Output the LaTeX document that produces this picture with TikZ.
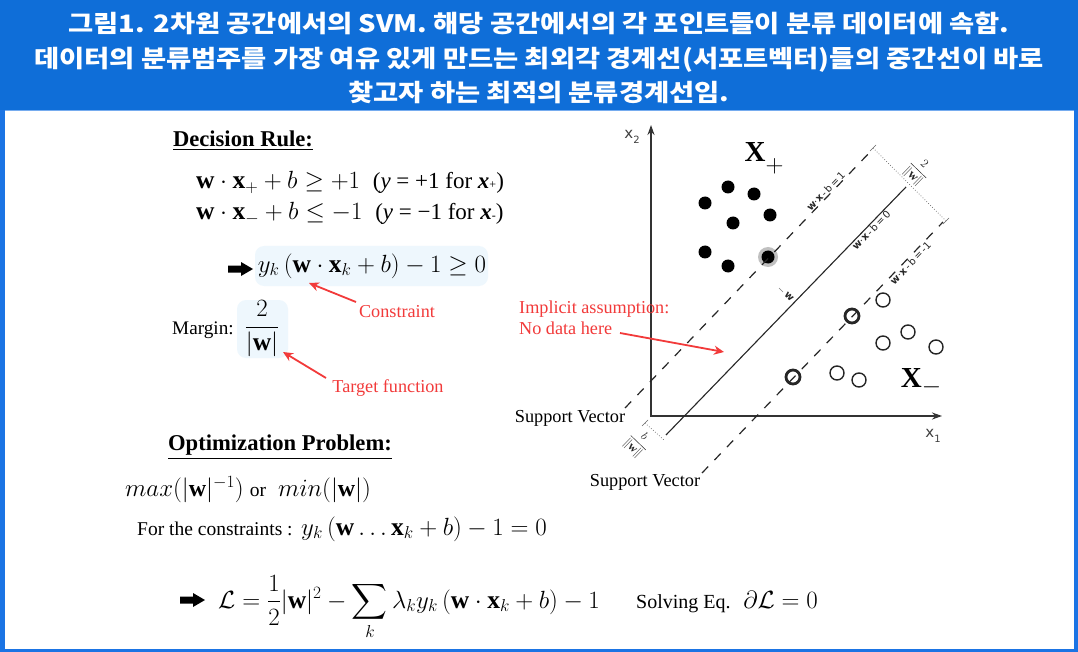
\documentclass[tikz,border=0pt]{standalone}
\usepackage{amsmath}
\usepackage{fontspec}
\setmainfont{Liberation Serif}
\newfontfamily\kr{Noto Sans CJK KR}[FakeStretch=1.14]
\newfontfamily\dv{DejaVu Sans}
\usetikzlibrary{arrows.meta,calc}
\definecolor{hdrblue}{HTML}{0F6ED8}
\definecolor{brdblue}{HTML}{1B74E4}
\definecolor{redc}{HTML}{F23A3A}
\definecolor{boxc}{HTML}{EEF7FD}
\newcommand\tsz{\fontsize{19.5}{23}\selectfont}
\newcommand\msz{\fontsize{25.5}{30}\selectfont}
\tikzset{
  txt/.style={font=\fontsize{18.3}{21}\selectfont, inner sep=0pt},
  eq/.style={font=\msz, inner sep=0pt},
  hd/.style={font=\fontsize{22.6}{26}\selectfont\bfseries, inner sep=0pt},
  redtxt/.style={text=redc, font=\fontsize{18.2}{20.5}\selectfont, inner sep=0pt, align=left},
  redarrow/.style={draw=redc, line width=1.8pt, -{Stealth[length=10pt,width=9pt]}},
  eqbox/.style={fill=boxc, rounded corners=9pt},
  lbl/.style={font=\dv\fontsize{10}{11}\selectfont, inner sep=1pt, text=black!85},
  axlbl/.style={font=\dv\fontsize{15}{16}\selectfont, inner sep=0pt, text=black!75},
  fdot/.style={circle, fill=black, minimum size=13pt, inner sep=0pt},
  odot/.style={circle, draw=black!85, line width=1.4pt, minimum size=14pt, inner sep=0pt},
  svdot/.style={circle, draw=black!85, line width=2.8pt, minimum size=14pt, inner sep=0pt},
  dline/.style={line width=1.2pt, dash pattern=on 9pt off 9pt, black!85},
  mline/.style={line width=0.7pt, dotted, black!60},
  axis/.style={line width=2pt, black!80, {Stealth[length=10pt,width=7pt]}-{Stealth[length=10pt,width=7pt]}},
  bigx/.style={font=\fontsize{29}{30}\selectfont, inner sep=0pt},
  bigarrow/.pic={\fill[black] (0,-3.5)--(13,-3.5)--(13,-7)--(25,0)--(13,7)--(13,3.5)--(0,3.5)--cycle;}
}
\begin{document}
\begin{tikzpicture}[x=1pt,y=-1pt]
\useasboundingbox (0,0) rectangle (1078,652);
% frame
\fill[brdblue] (0,0) rectangle (1078,652);
\fill[hdrblue] (0,0) rectangle (1078,110);
\fill[white] (4.5,110.5) rectangle (1074,649);
\draw[brdblue!60, line width=1pt] (4.5,110.5) -- (1074,110.5);
% title
\node[font=\kr\bfseries\fontsize{24}{34.5}\selectfont, text=white, align=center, inner sep=0pt] (title) at (539,58)
 {그림1. 2차원 공간에서의 SVM. 해당 공간에서의 각 포인트들이 분류 데이터에 속함.\\
  데이터의 분류범주를 가장 여유 있게 만드는 최외각 경계선(서포트벡터)들의 중간선이 바로\\
  찾고자 하는 최적의 분류경계선임.};

% ---------- left panel ----------
\node[hd] (dr) at (243,141) {\underline{Decision Rule:}};
\node[eq, anchor=base west] (r1) at (196,189) {$\mathbf{w}\cdot\mathbf{x}_{+}+b\geq+1$\ \ {\fontsize{23}{26}\selectfont(\textit{y} = +1 for \textbf{\textit{x}}{\fontsize{12}{12}\selectfont +})}};
\node[eq, anchor=base west] (r2) at (196,220) {$\mathbf{w}\cdot\mathbf{x}_{-}+b\leq-1$\ \ {\fontsize{23}{26}\selectfont(\textit{y} = −1 for \textbf{\textit{x}}{\fontsize{12}{12}\selectfont -})}};
\fill[eqbox] (255,246) rectangle (488,286);
\node[eq] (cons) at (372,266) {$y_k\left(\mathbf{w}\cdot\mathbf{x}_k+b\right)-1\geq0$};
\pic at (228,269) {bigarrow};
\node[txt, font=\fontsize{19.2}{21}\selectfont] (marg) at (203,330) {Margin:};
\fill[eqbox] (237,300) rectangle (288,358);
\node[eq] (frac) at (262,329) {$\dfrac{2}{|\mathbf{w}|}$};
\node[redtxt] (clbl) at (397,312) {Constraint};
\node[redtxt] (tlbl) at (388,388) {Target function};
\coordinate (ca) at (356,302);
\coordinate (cb) at (309,283);
\coordinate (ta) at (326,378);
\coordinate (tb) at (283,352);
\draw[redarrow] (ca) -- (cb);
\draw[redarrow] (ta) -- (tb);

\node[hd] (op) at (280,447) {\underline{Optimization Problem:}};
\node[eq, anchor=west, font=\fontsize{24}{28}\selectfont] (mx) at (125,490) {$max(|\mathbf{w}|^{-1})$ {\tsz or} \ $min(|\mathbf{w}|)$};
\node[eq, anchor=west] (fc) at (137,529) {{\tsz For the constraints :} $y_k\left(\mathbf{w}\ldots\mathbf{x}_k+b\right)-1=0$};
\pic at (180,600) {bigarrow};
\node[eq, anchor=base west] (lag) at (218,608) {$\mathcal{L}=\dfrac{1}{2}|\mathbf{w}|^2-\displaystyle\sum_k\lambda_k y_k\left(\mathbf{w}\cdot\mathbf{x}_k+b\right)-1$};
\node[eq, anchor=base west] (solv) at (636,608) {{\fontsize{20}{23}\selectfont Solving Eq.}\ \ $\partial\mathcal{L}=0$};

% ---------- plot ----------
\coordinate (O) at (651,416);
\coordinate (ytip) at (651,125);
\coordinate (xtip) at (942,416);
\draw[axis] (ytip) -- (O) -- (xtip);
\node[axlbl] (x2) at (632,137) {x\raisebox{-5pt}{\fontsize{10}{10}\selectfont 2}};
\node[axlbl] (x1) at (933,436) {x\raisebox{-5pt}{\fontsize{10}{10}\selectfont 1}};

\coordinate (s1) at (666,435); \coordinate (s2) at (906,187);
\coordinate (u1) at (625,408); \coordinate (u2) at (871,151);
\coordinate (l1) at (702,473); \coordinate (l2) at (943,222);
\coordinate (m1) at (873,148); \coordinate (m2) at (946,221);
\coordinate (b1) at (645,423); \coordinate (b2) at (664,440);
\draw[line width=1.1pt, black!85] (s1) -- (s2);
\draw[mline] (m1) -- (m2);
\draw[mline] (b1) -- (b2);
\draw[black!60, line width=0.6pt] ($(b1)+(-3,3)$) -- ($(b1)+(3,-3)$);
\draw[black!60, line width=0.6pt] ($(m1)+(-3,3)$) -- ($(m1)+(3,-3)$);
\draw[black!60, line width=0.6pt] ($(m2)+(-3,3)$) -- ($(m2)+(3,-3)$);

% points
\node[circle, fill=black!35, minimum size=20pt, inner sep=0pt, opacity=0.7] (halo) at (768,257) {};
\foreach \n/\x/\y in {p1/728/187, p2/754/194, p3/705/203, p4/770/215, p5/733/223, p6/705/252, p7/728/266, p8/768/257}
  \node[fdot] (\n) at (\x,\y) {};
\foreach \n/\x/\y in {n1/883/300, n2/908/332, n3/883/343, n4/936/347, n5/837/373, n6/859/380}
  \node[odot] (\n) at (\x,\y) {};
\node[svdot] (sv1) at (852,316) {};
\node[svdot] (sv2) at (793,377) {};
\draw[dline] (u1) -- (u2);
\draw[dline] (l1) -- (l2);

\node[bigx] (xp) at (764,158) {$\mathbf{X}$\raisebox{-11pt}{$+$}};
\node[bigx] (xm) at (921,382) {$\mathbf{X}$\raisebox{-6pt}{$-$}};

\node[lbl, rotate=46, anchor=south] (lu) at ($(u1)!0.83!(u2)$) {\textbf{w}·\textbf{x}\,-\,b\,=\,1};
\node[lbl, rotate=46, anchor=north] (ls) at ($(s1)!0.84!(s2)$) {\textbf{w}·\textbf{x}\,-\,b\,=\,0};
\node[lbl, rotate=46, anchor=north] (ll) at ($(l1)!0.85!(l2)$) {\textbf{w}·\textbf{x}\,-\,b\,=\,-1};
\node[lbl, rotate=-44, font=\fontsize{13}{14}\selectfont] (lm) at (918,171) {$\dfrac{2}{\|\mathbf{w}\|}$};
\node[lbl, rotate=-44, font=\fontsize{12}{13}\selectfont] (lb) at (638,443) {$\dfrac{b}{\|\mathbf{w}\|}$};
\node[lbl, rotate=-44] (lw) at (789,297) {\textbf{w}};
\draw[black!50, line width=0.6pt] (779,288) -- (783,292);

\node[txt] (sva) at (570,418) {Support Vector};
\node[txt] (svb) at (645,482) {Support Vector};
\node[redtxt, anchor=west] (imp) at (519,318) {Implicit assumption:\\No data here};
\coordinate (ia) at (620,333);
\coordinate (ib) at (724,352);
\draw[redarrow] (ia) -- (ib);
\end{tikzpicture}
\end{document}
